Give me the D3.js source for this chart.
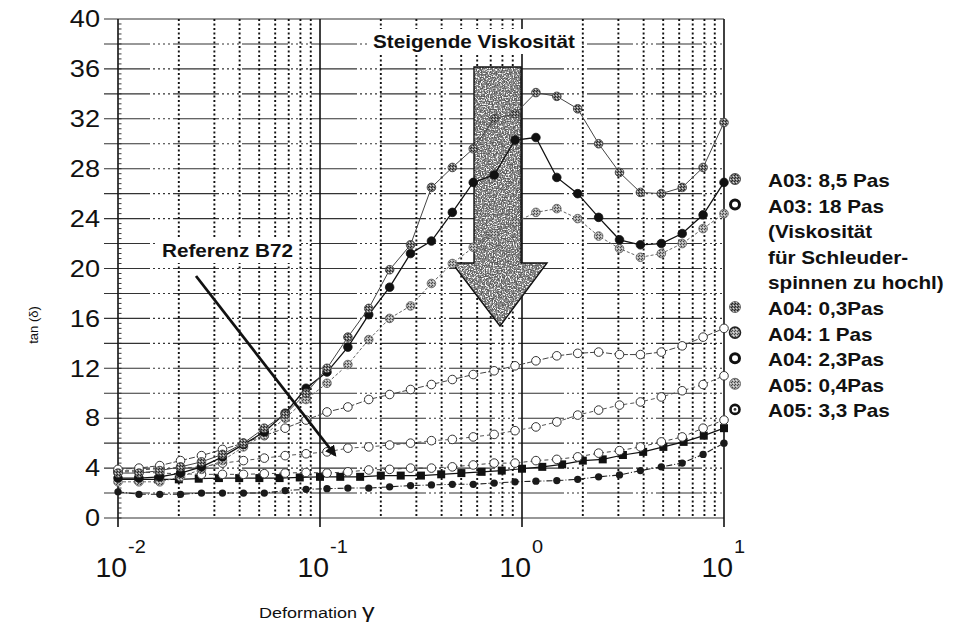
<!DOCTYPE html>
<html lang="de">
<head>
<meta charset="UTF-8">
<title>tan δ über Deformation γ</title>
<script src="https://cdn.jsdelivr.net/npm/d3@7"></script>
<style>
  html, body { margin: 0; padding: 0; background: #fff; overflow: hidden; }
  svg { display: block; }
  text { font-family: "Liberation Sans", Arial, sans-serif; fill: #111; }
</style>
</head>
<body>
<script>
// Strain points of the square series (10 per decade)
const strainSquares = [0.01, 0.0126, 0.0158, 0.02, 0.0251, 0.0316, 0.0398, 0.0501, 0.0631, 0.0794,
  0.1, 0.126, 0.158, 0.2, 0.251, 0.316, 0.398, 0.501, 0.631, 0.794,
  1, 1.26, 1.58, 2, 2.51, 3.16, 3.98, 5.01, 6.31, 7.94, 10];

// Strain points of the circle series (30 points over 3 decades)
const strain = [0.01, 0.0127, 0.0161, 0.0204, 0.0259, 0.0329, 0.0418, 0.053, 0.0672, 0.0853,
  0.1083, 0.1374, 0.1743, 0.2212, 0.2807, 0.3562, 0.452, 0.5736, 0.7279, 0.9237,
  1.172, 1.487, 1.887, 2.395, 3.039, 3.857, 4.894, 6.21, 7.88, 10];

// tan(δ) values
const grayPeak   = [3.6, 3.6, 3.8, 4.1, 4.5, 5.1, 6.0, 7.2, 8.3, 10.0, 12.0, 14.5, 16.8, 19.9, 21.9, 26.5, 28.1, 29.6, 32.0, 32.4, 34.1, 33.8, 32.8, 30.0, 27.7, 26.1, 26.0, 26.5, 28.1, 31.7];
const blackPeak  = [3.2, 3.2, 3.3, 3.6, 4.1, 4.9, 5.9, 6.9, 8.4, 10.4, 11.7, 13.7, 16.3, 18.5, 21.2, 22.2, 24.5, 26.9, 27.5, 30.3, 30.5, 27.3, 26.0, 24.1, 22.3, 21.9, 22.0, 22.8, 24.3, 26.9];
const grayMid    = [2.9, 2.9, 2.9, 3.3, 3.9, 4.6, 5.7, 6.65, 8.0, 9.5, 10.8, 12.3, 14.3, 16.0, 17.0, 18.8, 20.4, 21.7, 22.8, 23.7, 24.5, 24.8, 24.0, 22.6, 21.6, 20.9, 21.2, 22.0, 23.2, 24.4];
const openHigh   = [3.9, 4.0, 4.2, 4.6, 5.0, 5.5, 6.0, 6.6, 7.2, 7.85, 8.5, 8.9, 9.5, 9.9, 10.3, 10.7, 11.1, 11.5, 11.8, 12.2, 12.6, 13.0, 13.2, 13.3, 13.1, 13.1, 13.3, 13.8, 14.5, 15.2];
const openMid    = [3.75, 3.85, 3.95, 4.0, 4.1, 4.4, 4.6, 4.8, 5.0, 5.15, 5.3, 5.6, 5.7, 5.85, 6.0, 6.2, 6.3, 6.5, 6.7, 7.0, 7.3, 7.7, 8.25, 8.65, 9.05, 9.3, 9.7, 10.2, 10.7, 11.4];
const openLow    = [3.7, 3.7, 3.6, 3.55, 3.5, 3.5, 3.5, 3.55, 3.6, 3.65, 3.6, 3.7, 3.85, 3.9, 4.0, 4.0, 4.1, 4.25, 4.4, 4.4, 4.6, 4.7, 4.9, 5.2, 5.4, 5.7, 6.1, 6.5, 7.2, 7.85];
const squares    = [3.1, 3.1, 3.1, 3.1, 3.15, 3.2, 3.2, 3.2, 3.2, 3.25, 3.3, 3.3, 3.3, 3.4, 3.4, 3.4, 3.5, 3.6, 3.7, 3.8, 3.95, 4.1, 4.3, 4.6, 4.7, 5.05, 5.3, 5.7, 6.1, 6.6, 7.2];
const blackLow   = [2.1, 1.9, 1.9, 1.9, 2.0, 2.0, 2.0, 2.0, 2.2, 2.3, 2.35, 2.4, 2.4, 2.5, 2.6, 2.65, 2.7, 2.7, 2.8, 2.9, 2.95, 3.0, 3.1, 3.3, 3.45, 3.8, 4.1, 4.4, 5.1, 6.0];

// Axis ticks
const yTickLabels = [0, 4, 8, 12, 16, 20, 24, 28, 32, 36, 40];
const decades = [0.01, 0.1, 1, 10];
const decadeExp = ["-2", "-1", "0", "1"];

// Legend
const legendLabels = ["A03: 8,5 Pas", "A03: 18 Pas", "(Viskosität", "für Schleuder-", "spinnen zu hochl)",
  "A04: 0,3Pas", "A04: 1 Pas", "A04: 2,3Pas", "A05: 0,4Pas", "A05: 3,3 Pas"];
const legendMarkers = ["speckDark", "ring", null, null, null, "dotDark", "speckBorder", "ring", "speckLight", "ringDot"];

const width = 956, height = 625;
const x = d3.scaleLog().domain([0.01, 10]).range([118, 724]);
const y = d3.scaleLinear().domain([0, 40]).range([518, 19]);

const svg = d3.select("body").append("svg")
  .attr("width", width).attr("height", height);

const defs = svg.append("defs");

// gray speckle fill for the hatched markers
function speckPattern(id, base, dark) {
  const p = defs.append("pattern").attr("id", id)
    .attr("width", 3).attr("height", 3).attr("patternUnits", "userSpaceOnUse");
  p.append("rect").attr("width", 3).attr("height", 3).attr("fill", base);
  p.append("rect").attr("x", 0).attr("y", 0).attr("width", 1).attr("height", 1).attr("fill", dark);
  p.append("rect").attr("x", 2).attr("y", 1).attr("width", 1).attr("height", 1).attr("fill", dark);
  p.append("rect").attr("x", 1).attr("y", 2).attr("width", 1).attr("height", 1).attr("fill", "#e0e0e0");
}
speckPattern("speckDark", "#777", "#222");
speckPattern("speckLight", "#a8a8a8", "#444");

// grainy texture for the big arrow: dark and light speckles over gray
const grain = defs.append("filter").attr("id", "grain");
grain.append("feTurbulence").attr("type", "fractalNoise").attr("baseFrequency", 0.75)
  .attr("numOctaves", 2).attr("seed", 5).attr("result", "noise");
grain.append("feColorMatrix").attr("in", "noise").attr("type", "matrix")
  .attr("values", "0 0 0 0 0.1  0 0 0 0 0.1  0 0 0 0 0.1  7 0 0 0 -3.5").attr("result", "dark");
grain.append("feColorMatrix").attr("in", "noise").attr("type", "matrix")
  .attr("values", "0 0 0 0 0.95  0 0 0 0 0.95  0 0 0 0 0.95  -7 0 0 0 3.2").attr("result", "light");
grain.append("feComposite").attr("in", "dark").attr("in2", "SourceGraphic").attr("operator", "in").attr("result", "darkIn");
grain.append("feComposite").attr("in", "light").attr("in2", "SourceGraphic").attr("operator", "in").attr("result", "lightIn");
const merge = grain.append("feMerge");
merge.append("feMergeNode").attr("in", "SourceGraphic");
merge.append("feMergeNode").attr("in", "darkIn");
merge.append("feMergeNode").attr("in", "lightIn");

defs.append("marker").attr("id", "tip")
  .attr("viewBox", "0 0 10 10").attr("refX", 8).attr("refY", 5)
  .attr("markerWidth", 4).attr("markerHeight", 4).attr("orient", "auto")
  .append("path").attr("d", "M0,0 L10,5 L0,10 Z").attr("fill", "#111");

// text helper, the scan is slightly wider than the font
function label(parent, px, py, sx) {
  return parent.append("text").attr("transform", `translate(${px},${py}) scale(${sx},1)`);
}

// ---- grid ----
const grid = svg.append("g");
const yGrid = d3.range(0, 41, 2);
grid.selectAll(".hgrid").data(yGrid).join("line")
  .attr("x1", 104).attr("x2", 724)
  .attr("y1", d => y(d)).attr("y2", d => y(d))
  .attr("stroke", "#333").attr("stroke-width", 1.1)
  .attr("stroke-dasharray", d => (d === 0 || d === 40) ? null : "46,3,2,3,2,3,2,3,2,3");

const minorX = [];
[0.01, 0.1, 1].forEach(dec => [2, 3, 4, 5, 6, 7, 8, 9].forEach(m => minorX.push(dec * m)));
grid.selectAll(".vgrid").data(minorX).join("line")
  .attr("x1", d => x(d)).attr("x2", d => x(d))
  .attr("y1", y(40)).attr("y2", y(0))
  .attr("stroke", "#111").attr("stroke-width", 1.9)
  .attr("stroke-dasharray", "2,2.5");

grid.selectAll(".dec").data(decades).join("line")
  .attr("x1", d => x(d)).attr("x2", d => x(d))
  .attr("y1", y(40)).attr("y2", 527)
  .attr("stroke", "#111").attr("stroke-width", 1.6);

// minor ticks on the y axis
grid.selectAll(".ymin").data(d3.range(0, 100)).join("line")
  .attr("x1", 118).attr("x2", 121.5)
  .attr("y1", d => y(d * 0.4)).attr("y2", d => y(d * 0.4))
  .attr("stroke", "#222").attr("stroke-width", 0.9);

// ---- tick labels ----
yTickLabels.forEach(v => {
  label(svg, 100, y(v), 1.18).attr("text-anchor", "end").attr("dy", "0.36em")
    .style("font-size", "23px").text(v);
});
decades.forEach((d, i) => {
  label(svg, x(d) + 9, 577, 1.05).attr("text-anchor", "end").style("font-size", "27px").text("10");
  label(svg, x(d) + 10, 553, 1.05).style("font-size", "19px").text(decadeExp[i]);
});

label(svg, 259, 618, 1.2).style("font-size", "15px")
  .text("Deformation ")
  .append("tspan").style("font-size", "21px").text("γ");
svg.append("text").attr("transform", "translate(38,325) rotate(-90)")
  .attr("text-anchor", "middle").style("font-size", "13px").text("tan (δ)");

// ---- big arrow "Steigende Viskosität" ----
const arrowPts = [[474, 67], [521, 67], [521, 263], [547, 263], [500, 326], [452, 263], [474, 263]];
const arrowD = "M" + arrowPts.map(p => p.join(",")).join("L") + "Z";
svg.append("path").attr("d", arrowD).attr("fill", "#8a8a8a").attr("filter", "url(#grain)");
svg.append("path").attr("d", arrowD).attr("fill", "none").attr("stroke", "#111").attr("stroke-width", 1.4);

// ---- data ----
const series = [
  { vals: blackLow, xs: strain, marker: "blackSmall", dash: "6,2,1,2", stroke: "#222", sw: 1.1 },
  { vals: squares, xs: strainSquares, marker: "square", dash: null, stroke: "#111", sw: 1.2 },
  { vals: openLow, xs: strain, marker: "open", dash: "4,3", stroke: "#444", sw: 1 },
  { vals: openMid, xs: strain, marker: "open", dash: "4,3", stroke: "#555", sw: 1 },
  { vals: openHigh, xs: strain, marker: "open", dash: "6,2", stroke: "#444", sw: 1 },
  { vals: grayMid, xs: strain, marker: "speckLight", dash: "3,2", stroke: "#666", sw: 1 },
  { vals: blackPeak, xs: strain, marker: "black", dash: null, stroke: "#111", sw: 1.3 },
  { vals: grayPeak, xs: strain, marker: "speckDark", dash: null, stroke: "#444", sw: 1 }
];

const line = d3.line().x(d => x(d[0])).y(d => y(d[1]));

series.forEach(s => {
  const pts = s.vals.map((v, i) => [s.xs[i], v]);
  svg.append("path").datum(pts)
    .attr("d", line).attr("fill", "none")
    .attr("stroke", s.stroke).attr("stroke-width", s.sw)
    .attr("stroke-dasharray", s.dash);
  const g = svg.append("g");
  pts.forEach(p => drawMarker(g, x(p[0]), y(p[1]), s.marker, 4.3));
});

function drawMarker(g, cx, cy, kind, r) {
  if (kind === "square") {
    g.append("rect").attr("x", cx - 4).attr("y", cy - 4).attr("width", 8).attr("height", 8).attr("fill", "#111");
    return;
  }
  const c = g.append("circle").attr("cx", cx).attr("cy", cy).attr("r", r);
  if (kind === "open") c.attr("fill", "#fff").attr("stroke", "#333").attr("stroke-width", 1);
  else if (kind === "black") c.attr("fill", "#111").attr("stroke", "#111").attr("stroke-width", 0.8);
  else if (kind === "blackSmall") c.attr("r", r * 0.85).attr("fill", "#1a1a1a");
  else if (kind === "speckDark") c.attr("fill", "url(#speckDark)").attr("stroke", "#444").attr("stroke-width", 0.9);
  else if (kind === "speckLight") c.attr("fill", "url(#speckLight)").attr("stroke", "#666").attr("stroke-width", 0.9);
  else if (kind === "dotDark") c.attr("fill", "url(#speckDark)").attr("stroke", "#333").attr("stroke-width", 0.6);
  else if (kind === "speckBorder") c.attr("fill", "url(#speckLight)").attr("stroke", "#222").attr("stroke-width", 1.6);
  else if (kind === "ring") c.attr("r", r - 1).attr("fill", "#fff").attr("stroke", "#111").attr("stroke-width", 3);
  else if (kind === "ringDot") {
    c.attr("r", r - 1).attr("fill", "#fff").attr("stroke", "#111").attr("stroke-width", 2.6);
    g.append("circle").attr("cx", cx).attr("cy", cy).attr("r", 1.4).attr("fill", "#333");
  }
}

// ---- annotations ----
svg.append("rect").attr("x", 367).attr("y", 29).attr("width", 214).attr("height", 25).attr("fill", "#fff");
label(svg, 373, 48, 1.15).style("font-size", "18px").style("font-weight", "bold").text("Steigende Viskosität");

svg.append("rect").attr("x", 157).attr("y", 238).attr("width", 141).attr("height", 25).attr("fill", "#fff");
label(svg, 162, 257, 1.15).style("font-size", "18px").style("font-weight", "bold").text("Referenz B72");
svg.append("line").attr("x1", 196).attr("y1", 276).attr("x2", 335).attr("y2", 455)
  .attr("stroke", "#111").attr("stroke-width", 2.8).attr("marker-end", "url(#tip)");

// ---- legend ----
const legend = svg.append("g");
legendLabels.forEach((t, i) => {
  const base = 187 + 25.6 * i;
  label(legend, 768, base, 1.15).style("font-size", "18px").style("font-weight", "bold").text(t);
  if (legendMarkers[i]) drawMarker(legend, 735, base - 8, legendMarkers[i], 5.5);
});
</script>
</body>
</html>
